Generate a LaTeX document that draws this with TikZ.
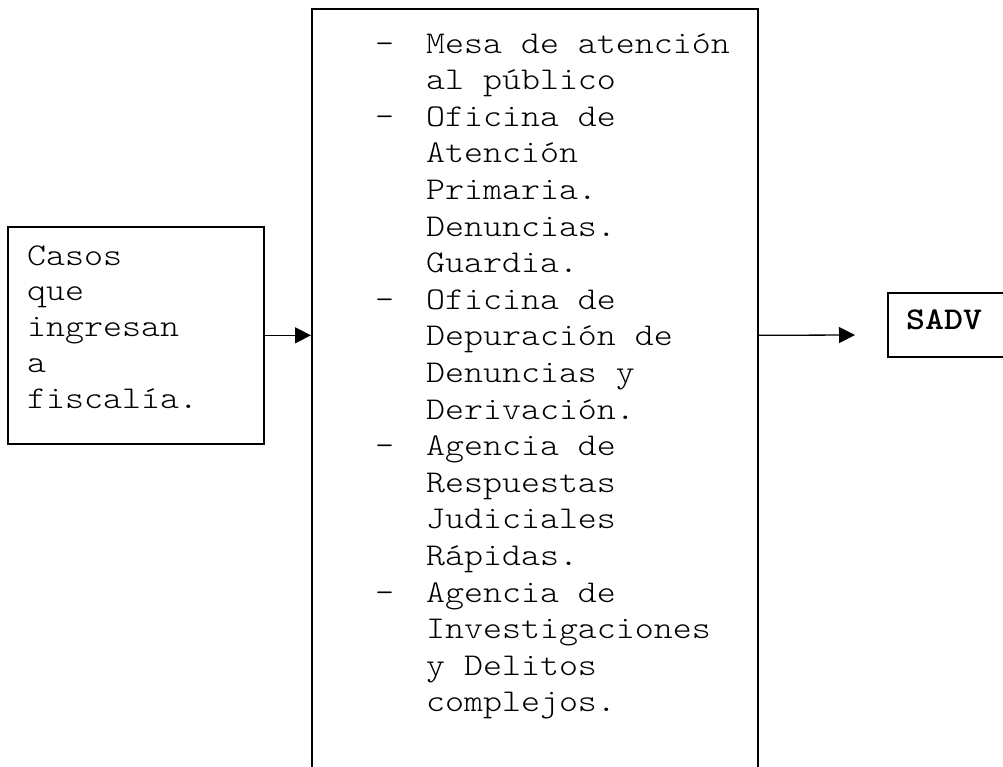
\documentclass[tikz,border=0pt]{standalone}
\usepackage{fontspec}
\setmainfont[FakeStretch=1.14]{Latin Modern Mono Light}
\usetikzlibrary{arrows.meta}
\begin{document}
\begin{tikzpicture}[x=1pt,y=-1pt,
  box/.style={draw, line width=1.6pt, inner sep=0pt, anchor=north west},
  txt/.style={anchor=base west, inner sep=0pt, font=\fontsize{31.7}{36}\selectfont},
  arr/.style={line width=1.3pt, -{Triangle[length=16pt,width=16pt]}}]
\useasboundingbox (0,0) rectangle (1003,766);
% boxes
\node[box, minimum width=256pt, minimum height=217pt] (casos) at (7,226) {};
\node[box, minimum width=446pt, minimum height=800pt] (mid) at (311,8) {};
\node[box, minimum width=140pt, minimum height=64pt] (sadv) at (887,292) {};
% left text
\foreach \t [count=\i] in {Casos,que,ingresan,a,fiscalía.}{
  \pgfmathsetmacro{\yy}{265+(\i-1)*35.75}
  \node[txt] (c\i) at (27,\yy) {\t};
}
% middle text
\foreach \t [count=\i] in {Mesa de atención,al público,Oficina de,Atención,Primaria.,Denuncias.,Guardia.,Oficina de,Depuración de,Denuncias y,Derivación.,Agencia de,Respuestas,Judiciales,Rápidas.,Agencia de,Investigaciones,y Delitos,complejos.}{
  \pgfmathsetmacro{\yy}{53+(\i-1)*36.6}
  \node[txt] (m\i) at (426,\yy) {\t};
}
\foreach \i in {1,3,8,12,16}{
  \node[txt, anchor=base west] (d\i) at (375,0 |- m\i.base) {-};
}
\node[txt, font=\fontsize{31.7}{36}\selectfont\bfseries] (sadvt) at (906,329) {SADV};
% connectors
\coordinate (t2) at (855,335);
\draw[arr] (casos.east) -- (casos.east -| mid.west);
\draw[arr] (mid.east |- casos.east) -- (t2);
\end{tikzpicture}
\end{document}
